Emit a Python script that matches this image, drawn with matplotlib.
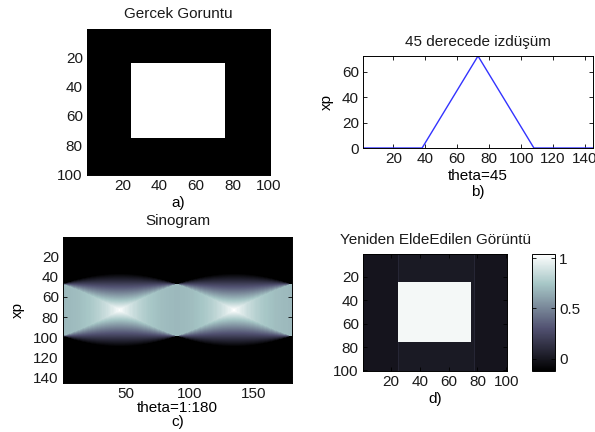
import numpy as np
import matplotlib
matplotlib.use("Agg")
import matplotlib.pyplot as plt

plt.rcParams['font.family'] = ['Liberation Sans', 'DejaVu Sans']
plt.rcParams['font.size'] = 11
plt.rcParams['text.color'] = '#1a1a1a'
plt.rcParams['xtick.labelcolor'] = '#1a1a1a'
plt.rcParams['ytick.labelcolor'] = '#1a1a1a'

# ---- data ----
img_size = 100
square_lo, square_hi = 25, 75          # white square (pixel indices, 1-based, inclusive)
theta = np.arange(1, 181)               # projection angles (deg)
n_xp = 145                              # radon output rows
xp_center = 73

# 45-degree projection
proj45_x = [1, 38, 73, 108, 145]
proj45_y = [0, 0, 72.6, 0, 0]
proj_max = 72.6

# reconstructed image levels
recon_outer = -0.01
recon_inner = 0.02
recon_square = 1.0
recon_edge_cols = [25, 78]
recon_edge_val = 0.08
recon_clim = (-0.12, 1.04)

a_xticks = [20, 40, 60, 80, 100]
b_xticks = [20, 40, 60, 80, 100, 120, 140]
b_yticks = [0, 20, 40, 60]
c_xticks = [50, 100, 150]
c_yticks = [20, 40, 60, 80, 100, 120, 140]
cb_ticks = [0, 0.5, 1]

# ---- derived images ----
phantom = np.zeros((img_size, img_size))
phantom[square_lo - 1:square_hi, square_lo - 1:square_hi] = 1.0

side = square_hi - square_lo + 1
t = np.arange(1, n_xp + 1) - xp_center
th = np.deg2rad(theta)
c = np.abs(np.cos(th)); s = np.abs(np.sin(th))
w = side / 2 * (c + s)
h = side / 2 * np.abs(c - s)
H = side / np.maximum(c, s)
T = np.abs(t)[:, None]
sino = np.where(T <= h, H, np.where(T < w, H * (w - T) / np.maximum(w - h, 1e-9), 0.0))

recon = np.full((img_size, img_size), recon_outer)
recon[:, recon_edge_cols[0] - 1:recon_edge_cols[1]] = recon_inner
for col in recon_edge_cols:
    recon[:, col - 1] = recon_edge_val
recon[square_lo - 1:square_hi, square_lo - 1:square_hi] = recon_square

# ---- figure ----
fig = plt.figure(figsize=(5.95, 4.32), dpi=100)

def style(ax):
    ax.tick_params(direction='in', top=True, right=True, length=3, width=0.6,
                   pad=3, labelsize=11)
    for sp in ax.spines.values():
        sp.set_linewidth(0.7)

# a)
ax1 = fig.add_axes([87/595, 1-175/432, 183/595, 146/432])
ax1.imshow(phantom, cmap='gray', aspect='auto', interpolation='nearest',
           extent=[0.5, 100.5, 100.5, 0.5])
ax1.set_xticks(a_xticks); ax1.set_yticks(a_xticks)
style(ax1)
ax1.set_title('Gercek Goruntu', fontsize=11, pad=8)
ax1.set_xlabel('a)', fontsize=11, labelpad=2)

# b)
ax2 = fig.add_axes([363/595, 1-148/432, 230/595, 92/432])
ax2.plot(proj45_x, proj45_y, color='#3333ff', lw=1.0)
ax2.set_xlim(1, 145); ax2.set_ylim(0, proj_max)
ax2.set_xticks(b_xticks); ax2.set_yticks(b_yticks)
style(ax2)
ax2.set_title('45 derecede izdüşüm', fontsize=11, pad=7)
ax2.set_xlabel('theta=45\nb)', fontsize=11, labelpad=2, linespacing=1.2)
ax2.set_ylabel('xp', fontsize=11, labelpad=6)

# c)
ax3 = fig.add_axes([63/595, 1-383/432, 229/595, 146/432])
ax3.imshow(sino, cmap='bone', aspect='auto', interpolation='nearest',
           vmin=0, vmax=proj_max, extent=[0.5, 180.5, 145.5, 0.5])
ax3.set_xticks(c_xticks); ax3.set_yticks(c_yticks)
style(ax3)
ax3.set_title('Sinogram', fontsize=11, pad=9)
ax3.set_xlabel('theta=1:180\nc)', fontsize=11, labelpad=0, linespacing=1.0)
ax3.set_ylabel('xp', fontsize=11, labelpad=6)

# d)
ax4 = fig.add_axes([363/595, 1-371/432, 144/595, 117/432])
im = ax4.imshow(recon, cmap='bone', aspect='auto', interpolation='nearest',
                vmin=recon_clim[0], vmax=recon_clim[1],
                extent=[0.5, 100.5, 100.5, 0.5])
ax4.set_xticks(a_xticks); ax4.set_yticks(a_xticks)
style(ax4)
ax4.set_title('Yeniden EldeEdilen Görüntü', fontsize=11, pad=7)
ax4.set_xlabel('d)', fontsize=11, labelpad=2)

cax = fig.add_axes([532/595, 1-371/432, 23/595, 117/432])
cb = fig.colorbar(im, cax=cax)
cb.set_ticks(cb_ticks)
cb.set_ticklabels(['0', '0.5', '1'])
cax.tick_params(direction='in', left=True, right=True, length=3, width=0.6,
                labelsize=11, pad=3)
cb.outline.set_linewidth(0.7)

fig.savefig('out.png', dpi=100)
